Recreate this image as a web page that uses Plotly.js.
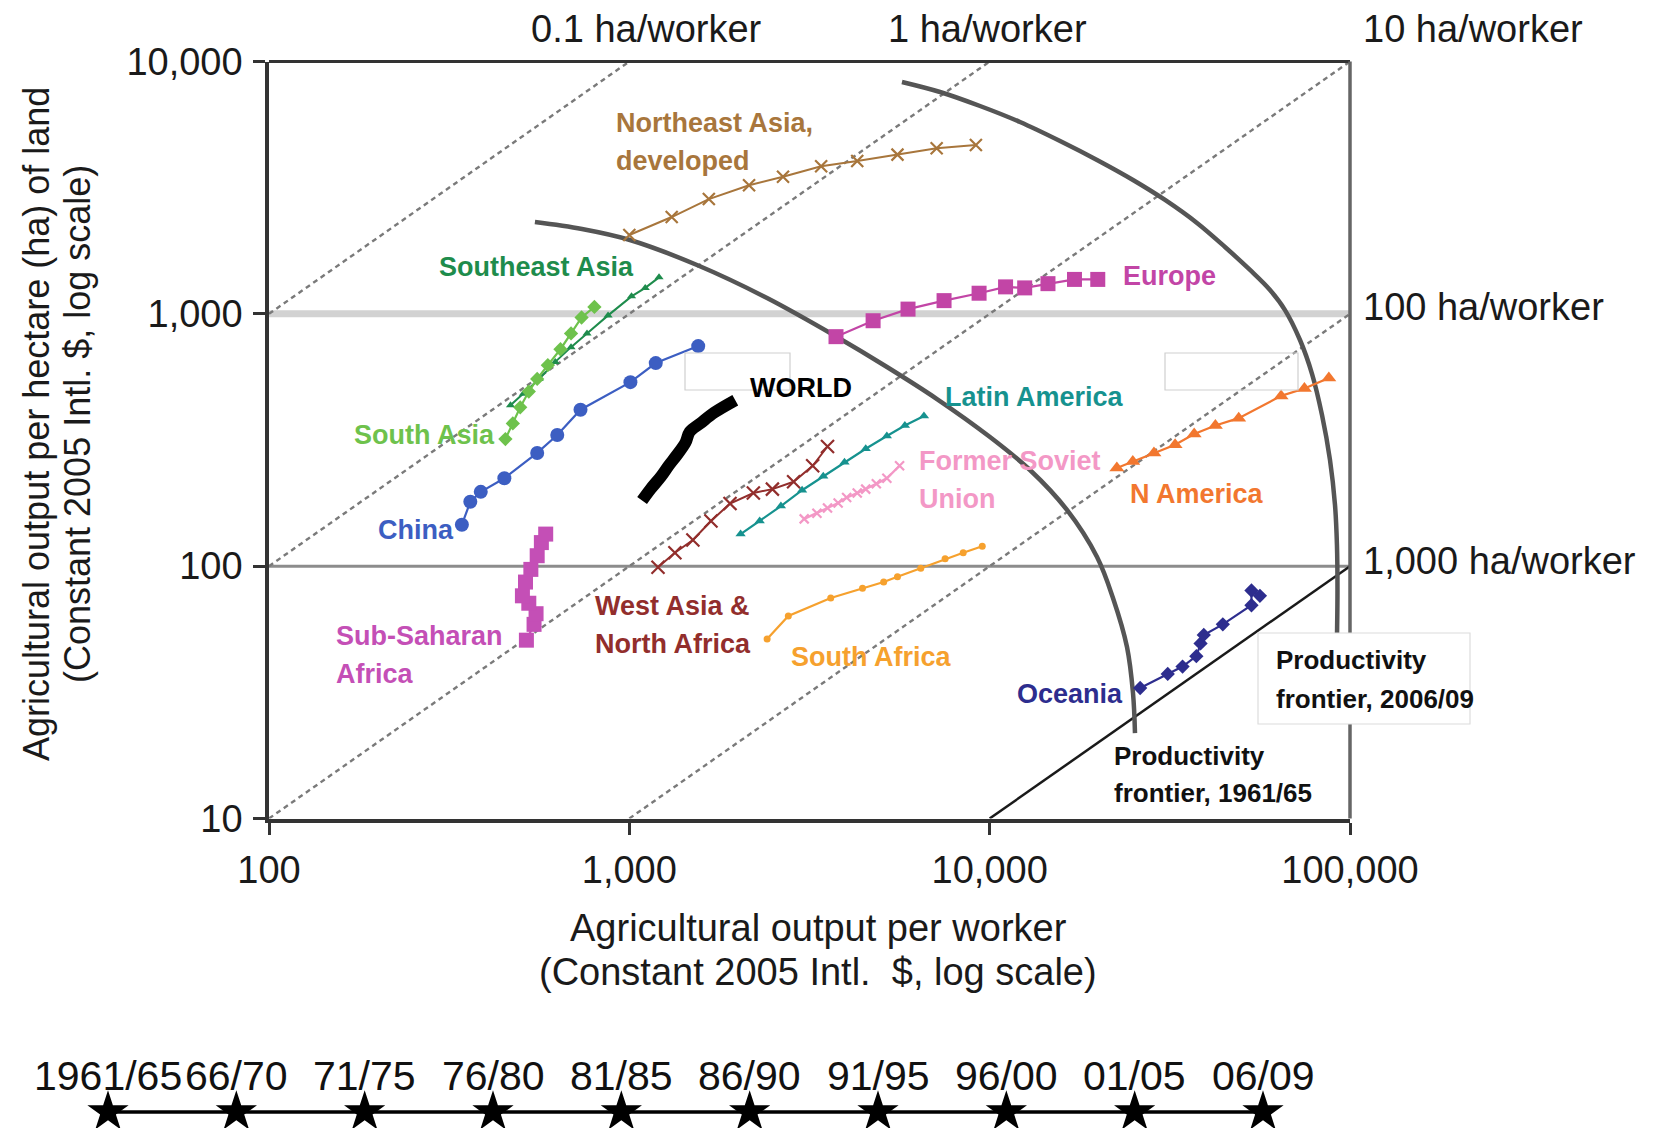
<!DOCTYPE html>
<html>
<head>
<meta charset="utf-8">
<script src="https://cdn.plot.ly/plotly-3.0.1.min.js"></script>
<style>html,body{margin:0;padding:0;background:#fff}</style>
</head>
<body>
<div id="chart" style="width:1661px;height:1128px"></div>
<script>
// ---------------- data ----------------
const periods = ["1961/65","66/70","71/75","76/80","81/85","86/90","91/95","96/00","01/05","06/09"];

const xTickVals = [100, 1000, 10000, 100000];
const xTickText = ["100", "1,000", "10,000", "100,000"];
const yTickVals = [10, 100, 1000, 10000];
const yTickText = ["10", "100", "1,000", "10,000"];

const haRatios = [0.1, 1, 10, 100, 1000];
const haLabels = ["0.1 ha/worker", "1 ha/worker", "10 ha/worker", "100 ha/worker", "1,000 ha/worker"];

const neAsiaX = [1000,1311,1662,2149,2670,3407,4290,5548,7127,9158];
const neAsiaY = [2053,2419,2850,3231,3491,3845,4036,4276,4531,4665];
const europeX = [3746,4748,5935,7472,9346,11070,12508,14515,17193,19953];
const europeY = [812,939,1044,1128,1207,1279,1267,1317,1369,1369];
const seAsiaX = [468,508,562,623,689,763,873,1014,1107,1209];
const seAsiaY = [434,482,552,645,738,836,986,1173,1267,1395];
const southAsiaX = [453,475,498,526,555,594,644,689,737,800];
const southAsiaY = [319,368,426,492,552,626,724,836,967,1065];
const chinaX = [343,362,387,450,555,631,732,1007,1184,1553];
const chinaY = [146,180,197,223,281,331,417,536,638,745];
const worldX = [1085,1145,1225,1285,1356,1432,1471,1574,1719,1968];
const worldY = [182,202,227,250,276,309,341,368,406,455];
const ssaX = [518,544,551,526,505,515,533,555,570,586];
const ssaY = [50.9,58.8,64.8,71.3,76.3,86.5,97.1,110,124,134];
const wanaX = [1201,1338,1501,1685,1903,2209,2495,2857,3227,3548];
const wanaY = [99,113,127,151,177,195,202,216,250,298];
const latamX = [2036,2300,2634,3016,3453,3955,4529,5184,5817,6571];
const latamY = [134,151,173,200,227,258,292,328,361,394];
const fsuX = [3057,3316,3548,3797,4009,4290,4529,4846,5184,5623];
const fsuY = [154,162,170,178,187,195,202,212,223,250];
const safX = [2412,2762,3622,4437,5080,5548,6439,7522,8444,9537];
const safY = [51.4,63.5,74.8,81.7,86.5,90.8,98.1,107,113,120];
const namX = [22540,24960,28570,32710,36950,42310,49110,64390,74730,87350];
const namY = [245,260,281,303,334,361,386,473,506,557];
const oceX = [26160,31200,34300,37460,38480,39280,44370,53280,53280,56230];
const oceY = [32.9,37.4,40.0,44.0,49.4,53.4,58.8,70.0,80.1,76.3];

const frontier1961X = [547,739,1004,1541,2411,3770,5189,7142,10020,12940,16390,19860,21990,24050,24990,25310];
const frontier1961Y = [2311,2169,1962,1561,1155,809.5,615.6,459.6,325,240.5,167,108.7,74.8,47.8,31.4,21.8];
const frontier2006X = [5710,7282,9402,12140,15680,19860,24990,30670,37620,44990,52790,59980,66010,72650,78480,83620,88000,90860,92000,92310,92000,91450];
const frontier2006Y = [8296,7571,6662,5757,4840,4071,3391,2826,2291,1840,1492,1243,1035,787.6,577.4,397.2,263.5,174.8,121.3,80.4,51,29.5];

// ---------------- layout helpers ----------------
const W = 1661, H = 1128;
const PL = 269, PR = 1350, PT = 61.5, PB = 818.5;
const FONT = "Liberation Sans, Arial, Helvetica, sans-serif";
const px = v => v / W;
const py = v => 1 - v / H;
const XR = [2, 5], YR = [1, 4];

const traces = [];

// horizontal reference lines at 1,000 and 100
traces.push({x:[100,100000], y:[1000,1000], mode:'lines', line:{color:'#d2d2d2', width:7}, hoverinfo:'skip'});
traces.push({x:[100,100000], y:[100,100], mode:'lines', line:{color:'#8c8c8c', width:3}, hoverinfo:'skip'});

// ha/worker diagonals (output per worker / output per ha = ha per worker)
haRatios.forEach((r) => {
  const x0 = Math.max(Math.pow(10, XR[0]), r * Math.pow(10, YR[0]));
  const x1 = Math.min(Math.pow(10, XR[1]), r * Math.pow(10, YR[1]));
  const solid = r === 1000;
  traces.push({x:[x0, x1], y:[x0 / r, x1 / r], mode:'lines',
    line: solid ? {color:'#1a1a1a', width:2.5} : {color:'#7a7a7a', width:2.4, dash:'5px,4px'},
    hoverinfo:'skip'});
});

// productivity frontiers
traces.push({x:frontier1961X, y:frontier1961Y, mode:'lines', line:{color:'#555', width:4.5, shape:'spline', smoothing:1}, hoverinfo:'skip'});
traces.push({x:frontier2006X, y:frontier2006Y, mode:'lines', line:{color:'#555', width:4.5, shape:'spline', smoothing:1}, hoverinfo:'skip'});

function series(x, y, color, symbol, size, lw, xline) {
  const m = {symbol:symbol, size:size, color:color};
  if (xline) m.line = {color:color, width:xline};
  return {x:x, y:y, mode:'lines+markers', line:{color:color, width:lw}, marker:m, hoverinfo:'x+y'};
}
traces.push(series(neAsiaX, neAsiaY, '#A8763C', 'x-thin-open', 12, 2, 2.2));
traces.push(series(europeX, europeY, '#C245A6', 'square', 15, 2.2));
traces.push(series(seAsiaX, seAsiaY, '#1E8C4C', 'triangle-up', 8, 2));
traces.push(series(southAsiaX, southAsiaY, '#6EC24C', 'diamond', 11, 2.2));
traces.push(series(chinaX, chinaY, '#3C5EC2', 'circle', 14, 2.2));
traces.push({x:worldX, y:worldY, mode:'lines', line:{color:'#000', width:12, shape:'spline'}, hoverinfo:'x+y'});
traces.push(series(ssaX, ssaY, '#C44FB6', 'square', 15, 2.2));
traces.push(series(wanaX, wanaY, '#922E2C', 'x-thin-open', 13, 2, 2.2));
traces.push(series(latamX, latamY, '#16928F', 'triangle-up', 9, 2.2));
traces.push(series(fsuX, fsuY, '#F398C6', 'x-thin-open', 9, 2.4, 2.2));
traces.push(series(safX, safY, '#F6A12E', 'circle', 7, 2.2));
traces.push(series(namX, namY, '#F2772F', 'triangle-up', 13, 2.2));
traces.push(series(oceX, oceY, '#2D2D8E', 'diamond', 11, 2.2));

// timeline of periods
traces.push({x:periods.map((p, i) => i), y:periods.map(() => 0), xaxis:'x2', yaxis:'y2',
  mode:'lines+markers', cliponaxis:false, line:{color:'#000', width:3.5},
  marker:{symbol:'star', size:31, color:'#000'}, hoverinfo:'skip'});

// ---------------- annotations ----------------
const ann = [];
function lab(text, x, y, color, size, opts) {
  ann.push(Object.assign({xref:'paper', yref:'paper', x:px(x), y:py(y), xanchor:'left', yanchor:'middle',
    text:text, showarrow:false, align:'left', font:{family:FONT, size:size, color:color}}, opts || {}));
}
const B = s => '<b>' + s + '</b>';
const LS = 27;
lab(B('Northeast Asia,'), 614, 123, '#A8763C', LS);
lab(B('developed'), 614, 161, '#A8763C', LS);
lab(B('Southeast Asia'), 437, 267, '#1E8C4C', LS);
lab(B('South Asia'), 352, 435, '#6EC24C', LS);
lab(B('China'), 376, 530, '#3C5EC2', LS);
lab(B('WORLD'), 748, 388, '#000', LS);
lab(B('Sub-Saharan'), 334, 636, '#C44FB6', LS);
lab(B('Africa'), 334, 674, '#C44FB6', LS);
lab(B('West Asia &amp;'), 593, 606, '#922E2C', LS);
lab(B('North Africa'), 593, 644, '#922E2C', LS);
lab(B('South Africa'), 789, 657, '#F6A12E', LS);
lab(B('Latin America'), 943, 397, '#16928F', LS);
lab(B('Former Soviet'), 917, 461, '#F398C6', LS);
lab(B('Union'), 917, 499, '#F398C6', LS);
lab(B('N America'), 1128, 494, '#F2772F', LS);
lab(B('Europe'), 1121, 276, '#C245A6', LS);
lab(B('Oceania'), 1015, 694, '#2D2D8E', LS);
lab(B('Productivity'), 1112, 756, '#111', 26);
lab(B('frontier, 1961/65'), 1112, 793, '#111', 26);
lab(B('Productivity'), 1274, 660, '#111', 26);
lab(B('frontier, 2006/09'), 1274, 699, '#111', 26);

// ha/worker labels
const HS = 38, TXT = '#1a1a1a';
lab(haLabels[0], 646, 29, TXT, HS, {xanchor:'center'});
lab(haLabels[1], 987, 29, TXT, HS, {xanchor:'center'});
lab(haLabels[2], 1361, 29, TXT, HS);
lab(haLabels[3], 1361, 307, TXT, HS);
lab(haLabels[4], 1361, 561, TXT, HS);

// axis titles
lab('Agricultural output per worker', 818, 928, TXT, 38, {xanchor:'center'});
lab('(Constant 2005 Intl.&nbsp; $, log scale)', 818, 972, TXT, 38, {xanchor:'center'});
lab('Agricultural output per hectare (ha) of land', 36, 424, TXT, 36, {xanchor:'center', textangle:-90});
lab('(Constant 2005 Intl. $, log scale)', 77, 424, TXT, 36, {xanchor:'center', textangle:-90});

// timeline labels
periods.forEach((p, i) => {
  ann.push({xref:'x2', yref:'paper', x:i, y:py(1076), xanchor:'center', yanchor:'middle', text:p,
    showarrow:false, font:{family:FONT, size:41, color:'#111'}});
});

// ---------------- shapes ----------------
const shapes = [
  {type:'line', xref:'paper', yref:'paper', x0:px(PL), x1:px(PR), y0:py(PT), y1:py(PT), line:{color:'#333', width:3}},
  {type:'line', xref:'paper', yref:'paper', x0:px(PR), x1:px(PR), y0:py(PB), y1:py(PT), line:{color:'#666', width:3.5}},
  {type:'rect', xref:'paper', yref:'paper', x0:px(685), x1:px(790), y0:py(390), y1:py(353), line:{color:'#cfcfcf', width:1.2}},
  {type:'rect', xref:'paper', yref:'paper', x0:px(1165), x1:px(1298), y0:py(390), y1:py(353), line:{color:'#cfcfcf', width:1.2}},
  {type:'rect', xref:'paper', yref:'paper', layer:'above', x0:px(1258), x1:px(1470), y0:py(724), y1:py(633), fillcolor:'#fff', line:{color:'#dcdcdc', width:1.2}}
];

const layout = {
  width:W, height:H, margin:{l:0, r:0, t:0, b:0}, paper_bgcolor:'#fff', plot_bgcolor:'rgba(0,0,0,0)',
  showlegend:false, hovermode:'closest',
  font:{family:FONT, color:TXT},
  xaxis:{type:'log', range:XR, domain:[px(PL), px(PR)], anchor:'y',
    tickmode:'array', tickvals:xTickVals, ticktext:xTickText,
    ticks:'outside', ticklen:12, tickwidth:2.5, tickcolor:'#333',
    showline:true, linecolor:'#333', linewidth:4, showgrid:false, zeroline:false,
    tickfont:{family:FONT, size:38, color:TXT}, ticklabelstandoff:3},
  yaxis:{type:'log', range:YR, domain:[py(PB), py(PT)], anchor:'x',
    tickmode:'array', tickvals:yTickVals, ticktext:yTickText,
    ticks:'outside', ticklen:12, tickwidth:2.5, tickcolor:'#333',
    showline:true, linecolor:'#333', linewidth:3.5, showgrid:false, zeroline:false,
    tickfont:{family:FONT, size:38, color:TXT}, ticklabelstandoff:3},
  xaxis2:{domain:[px(108), px(1263)], range:[0, 9], anchor:'y2', visible:false, fixedrange:true},
  yaxis2:{domain:[0, 2 * (H - 1112) / H], range:[-1, 1], anchor:'x2', visible:false, fixedrange:true},
  annotations:ann, shapes:shapes
};

Plotly.newPlot('chart', traces, layout, {displayModeBar:false, responsive:false});
</script>
</body>
</html>
